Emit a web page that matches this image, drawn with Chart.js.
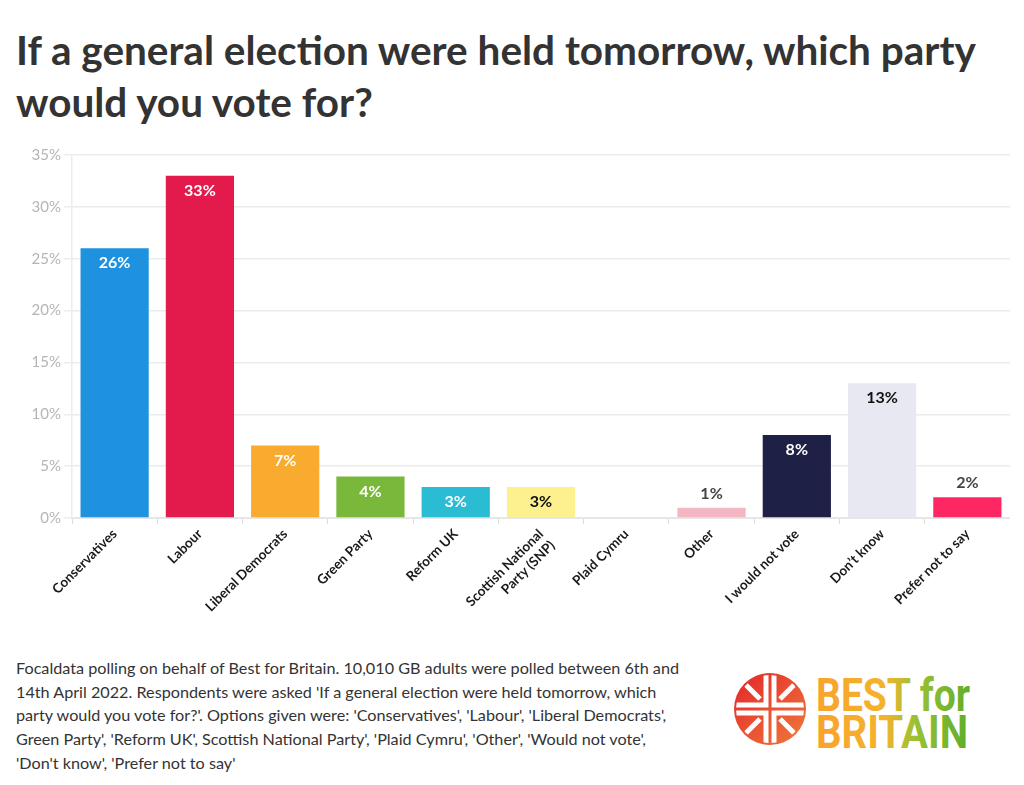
<!DOCTYPE html>
<html><head><meta charset="utf-8">
<script src="https://cdn.jsdelivr.net/npm/chart.js@4"></script>
<style>
html,body{margin:0;padding:0;background:#fff;}
body{width:1024px;height:785px;position:relative;overflow:hidden;font-family:Lato,"Noto Sans",sans-serif;}
#title{position:absolute;left:16px;top:24px;width:990px;font-family:Lato;font-weight:700;font-size:40.5px;line-height:52px;color:#333;}
#wrap{position:absolute;left:0;top:140px;width:1010px;height:500px;}
#foot{position:absolute;left:16px;top:656px;width:700px;font-family:Lato;font-size:16.2px;line-height:23.7px;color:#333;white-space:nowrap;}
#logo{position:absolute;left:720px;top:665px;}
</style></head><body>
<div id="title">If a general election were held tomorrow, which party would you vote for?</div>
<div id="wrap"><canvas id="c"></canvas></div>
<div id="foot">Focaldata polling on behalf of Best for Britain. 10,010 GB adults were polled between 6th and<br>14th April 2022. Respondents were asked 'If a general election were held tomorrow, which<br>party would you vote for?'. Options given were: 'Conservatives', 'Labour', 'Liberal Democrats',<br>Green Party', 'Reform UK', Scottish National Party', 'Plaid Cymru', 'Other', 'Would not vote',<br>'Don't know', 'Prefer not to say'</div>
<svg id="logo" width="270" height="100" viewBox="0 0 270 100">
<defs>
<linearGradient id="cg" x1="0" y1="0" x2="1" y2="1"><stop offset="0" stop-color="#e3262b"/><stop offset="1" stop-color="#f07a3a"/></linearGradient>
<linearGradient id="tg" x1="0" y1="0" x2="1" y2="0"><stop offset="0" stop-color="#f9a22c"/><stop offset="0.45" stop-color="#f4b32c"/><stop offset="0.65" stop-color="#9cc035"/><stop offset="1" stop-color="#5fae2a"/></linearGradient>
<clipPath id="cc"><circle cx="50" cy="44" r="34"/></clipPath>
</defs>
<circle cx="50" cy="44" r="36" fill="url(#cg)"/>
<g stroke="#fff" stroke-width="5" fill="none" clip-path="url(#cc)" stroke-linejoin="miter">
<polyline points="46,4 46,40 10,40"/>
<polyline points="54,4 54,40 90,40"/>
<polyline points="46,84 46,48 10,48"/>
<polyline points="54,84 54,48 90,48"/>
<line x1="22" y1="16" x2="40" y2="34"/>
<line x1="78" y1="16" x2="60" y2="34"/>
<line x1="22" y1="72" x2="40" y2="54"/>
<line x1="78" y1="72" x2="60" y2="54"/>
</g>
<text x="96" y="46" font-family="Roboto" font-weight="700" font-size="46" fill="url(#tg)" textLength="154" lengthAdjust="spacingAndGlyphs">BEST for</text>
<text x="96" y="83" font-family="Roboto" font-weight="700" font-size="46" fill="url(#tg)" textLength="152" lengthAdjust="spacingAndGlyphs">BRITAIN</text>
</svg>
<script>
const categories = ["Conservatives","Labour","Liberal Democrats","Green Party","Reform UK",["Scottish National","Party (SNP)"],"Plaid Cymru","Other","I would not vote","Don’t know","Prefer not to say"];
const values = [26,33,7,4,3,3,0,1,8,13,2];
const barColors = ["#1e92df","#e31b4c","#f9ab2f","#79b83a","#2abcd3","#fdf08f","#888888","#f2b7c3","#1f2045","#e8e8f3","#fe2764"];
const labelColors = ["#fff","#fff","#fff","#fff","#fff","#111","#fff","#444","#fff","#111","#444"];
const yTicks = [0,5,10,15,20,25,30,35];

const labelPlugin = {
  id:'vals',
  afterDatasetsDraw(chart){
    const ctx = chart.ctx;
    const meta = chart.getDatasetMeta(0);
    ctx.save();
    ctx.font = "700 16px Lato";
    ctx.textAlign = "center";
    ctx.textBaseline = "middle";
    meta.data.forEach((bar,i)=>{
      const v = values[i];
      if(v<=0) return;
      const h = bar.base - bar.y;
      const txt = v + "%";
      let y, col;
      if(h < 25){ y = bar.y - 14; col = "#444"; }
      else { y = bar.y + 15; col = labelColors[i];
        ctx.lineWidth = 4; ctx.strokeStyle = barColors[i]; ctx.lineJoin="round";
        ctx.strokeText(txt, bar.x, y);
      }
      ctx.fillStyle = col;
      ctx.fillText(txt, bar.x, y);
    });
    ctx.restore();
  }
};

new Chart(document.getElementById('c'), {
  type:'bar',
  data:{labels:categories, datasets:[{data:values, backgroundColor:barColors, borderWidth:0, barPercentage:0.8, categoryPercentage:1}]},
  options:{
    responsive:true, maintainAspectRatio:false, animation:false,
    layout:{padding:{top:15,right:0,left:10,bottom:0}},
    plugins:{legend:{display:false}, tooltip:{enabled:false}},
    scales:{
      x:{
        afterFit(axis){ axis.height = 122; },
        grid:{drawOnChartArea:false, drawTicks:true, tickLength:6, color:'#ddd'},
        border:{color:'#e6e6e6', width:2},
        ticks:{color:'#1a1a1a', font:{family:'Lato', weight:'700', size:13.5}, maxRotation:45, minRotation:45, padding:2, autoSkip:false}
      },
      y:{
        min:0, max:35,
        afterFit(axis){ axis.width = 62; },
        afterBuildTicks(axis){ axis.ticks = yTicks.map(v=>({value:v})); },
        grid:{color:'#ececec', lineWidth:1.5, tickLength:8},
        border:{color:'#ececec', width:1.5},
        ticks:{color:'#b5b5b5', font:{family:'Lato', size:15}, padding:3, callback:v=>v+'%'}
      }
    }
  },
  plugins:[labelPlugin]
});
</script>
</body></html>
